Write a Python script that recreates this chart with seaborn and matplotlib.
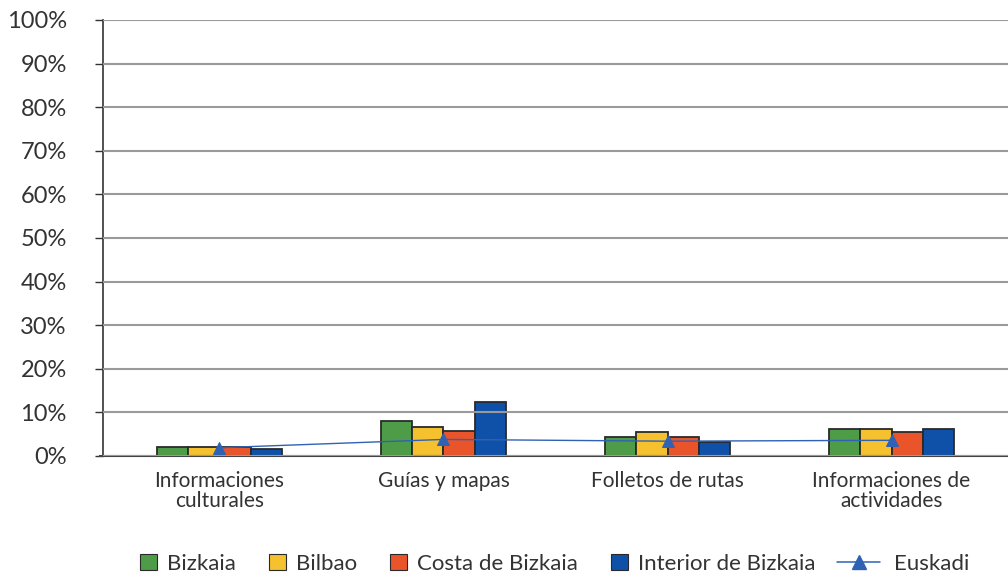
import matplotlib
matplotlib.use("Agg")
import matplotlib.pyplot as plt
import seaborn as sns
import pandas as pd
from matplotlib.patches import Patch
from matplotlib.lines import Line2D

categories = ["Informaciones\nculturales", "Guías y mapas", "Folletos de rutas", "Informaciones de\nactividades"]
series_names = ["Bizkaia", "Bilbao", "Costa de Bizkaia", "Interior de Bizkaia"]
bizkaia = [2.1, 8.1, 4.3, 6.3]
bilbao = [2.1, 6.7, 5.6, 6.3]
costa = [2.1, 5.8, 4.4, 5.4]
interior = [1.7, 12.5, 3.1, 6.3]
euskadi = [1.9, 3.8, 3.4, 3.6]
yticks = [0, 10, 20, 30, 40, 50, 60, 70, 80, 90, 100]
ytick_labels = [f"{v}%" for v in yticks]

colors = ["#4f9c48", "#f6c12e", "#e9542b", "#0f51a8"]
line_color = "#2f62b5"

sns.set_theme(style="white")
plt.rcParams["font.family"] = ["Lato", "DejaVu Sans"]

rows = []
for name, vals in zip(series_names, [bizkaia, bilbao, costa, interior]):
    for c, v in zip(categories, vals):
        rows.append({"cat": c, "serie": name, "val": v})
df = pd.DataFrame(rows)

fig = plt.figure(figsize=(10.08, 5.81), dpi=100)
ax = fig.add_axes([103 / 1008, 125 / 581, 905 / 1008, 436 / 581])

for v in yticks:
    ax.axhline(v, color="#9a9a9a", linewidth=1.5, zorder=0)

sns.barplot(data=df, x="cat", y="val", hue="serie", order=categories,
            hue_order=series_names, palette=colors, width=0.56,
            edgecolor="#2a2a2a", linewidth=1.3, ax=ax, legend=False,
            saturation=1, zorder=2)

sns.pointplot(x=categories, y=euskadi, color=line_color, markers="^",
              markersize=8, linewidth=1.0, errorbar=None, ax=ax)
for coll in ax.collections:
    coll.set_zorder(4)
for ln in ax.lines:
    ln.set_zorder(3)

ax.set_ylim(0, 100)
ax.set_xlim(-0.52, 3.52)
ax.set_yticks(yticks)
ax.set_yticklabels(ytick_labels, fontsize=17, color="#333333")
ax.set_xlabel("")
ax.set_ylabel("")
ax.tick_params(axis="y", which="both", left=True, length=6, width=1, color="#333333", pad=20)
ax.tick_params(axis="x", bottom=False, labelsize=15, labelcolor="#333333", pad=4.5)
for lbl in ax.get_xticklabels():
    lbl.set_linespacing(1.05)
ax.grid(False)
for s in ["top", "right"]:
    ax.spines[s].set_visible(False)
ax.spines["left"].set_color("#333333")
ax.spines["left"].set_linewidth(1.2)
ax.spines["bottom"].set_color("#444444")
ax.spines["bottom"].set_linewidth(1.5)
ax.spines["bottom"].set_bounds(-0.535, 3.52)

leg_y = 1 - 564 / 581
patch_handles = [Patch(facecolor=c, edgecolor="#2a2a2a", linewidth=0.8) for c in colors]
leg1 = fig.legend(patch_handles, series_names, loc="center left", bbox_to_anchor=(140 / 1008, leg_y),
                  ncol=4, frameon=False, fontsize=16, handlelength=0.75, handleheight=0.75,
                  columnspacing=1.5, handletextpad=0.45, labelcolor="#333333",
                  borderpad=0, borderaxespad=0)
euk_handle = Line2D([0], [0], color=line_color, marker="^", markersize=10, linewidth=1.1)
leg2 = fig.legend([euk_handle], ["Euskadi"], loc="center left", bbox_to_anchor=(837 / 1008, leg_y),
                  frameon=False, fontsize=16, handlelength=1.95, handletextpad=0.6,
                  labelcolor="#333333", borderpad=0, borderaxespad=0)

fig.savefig("out.png", dpi=100)
